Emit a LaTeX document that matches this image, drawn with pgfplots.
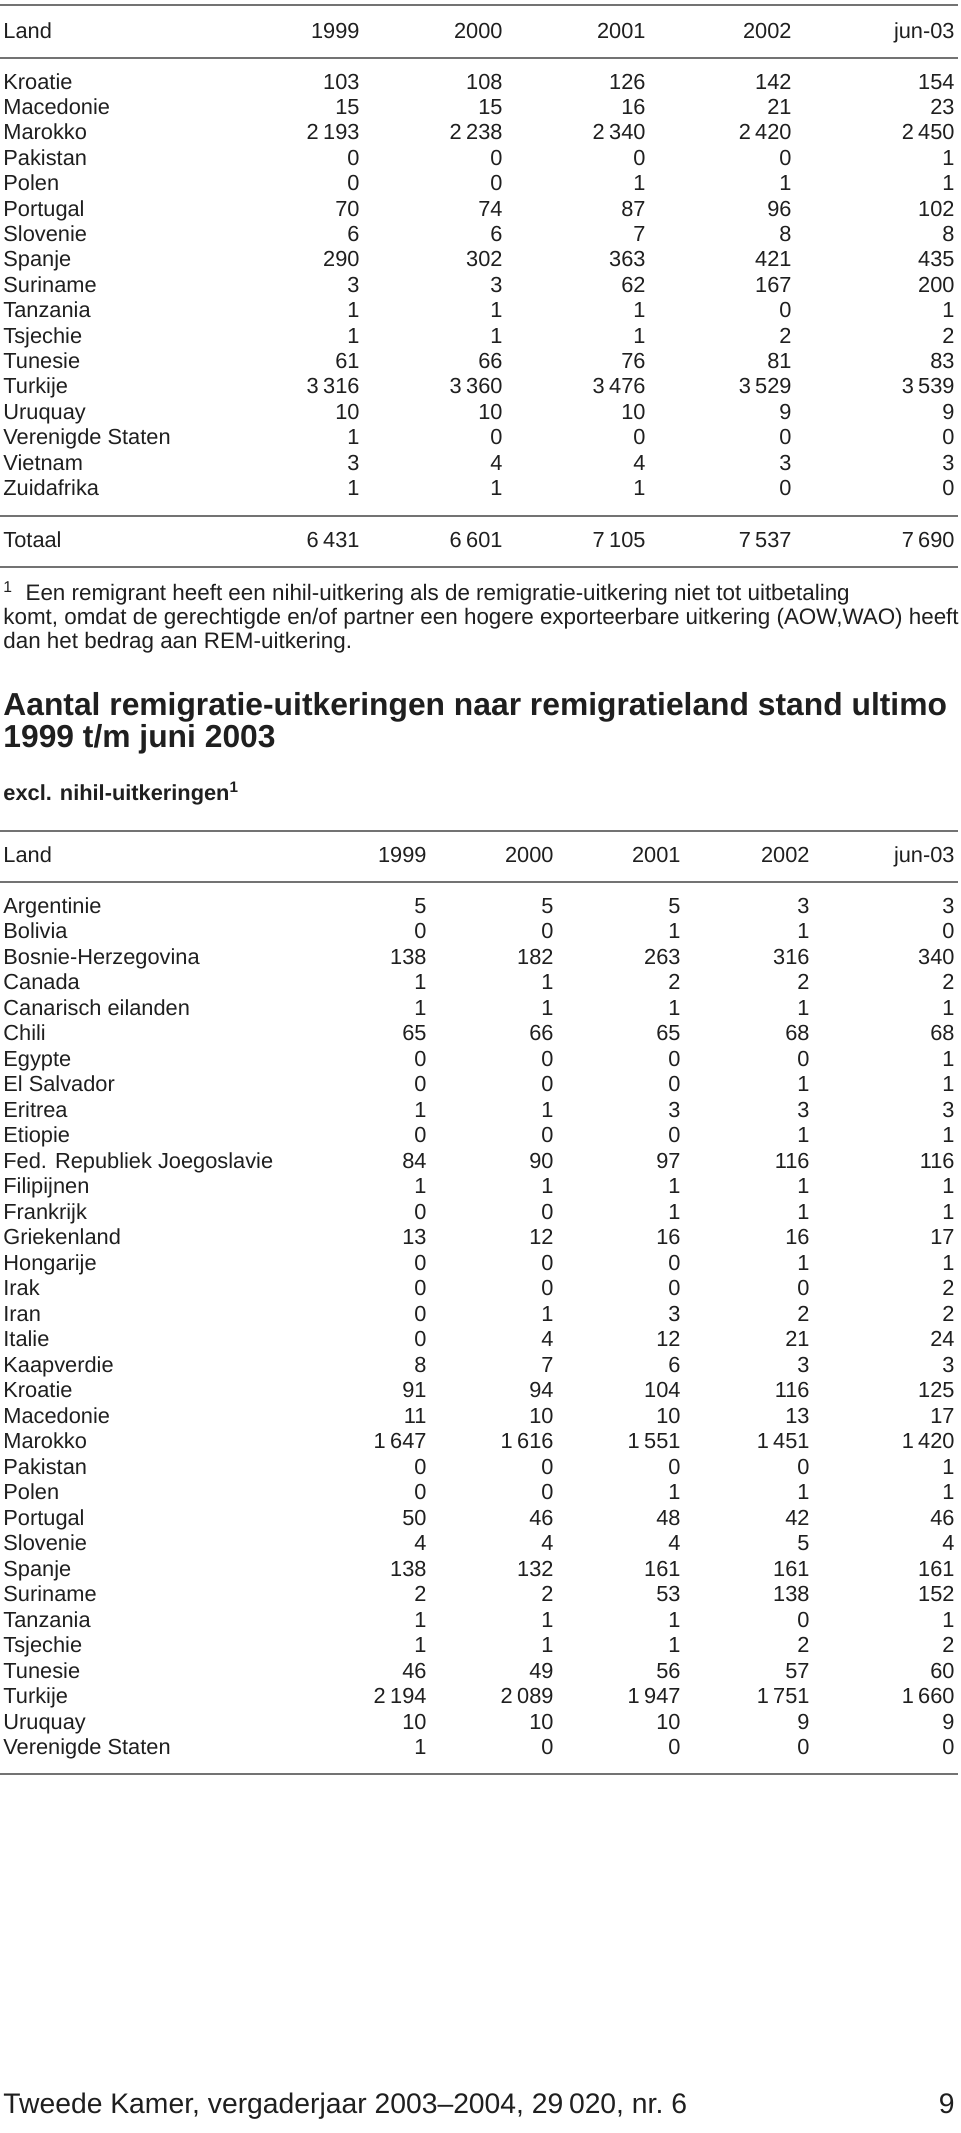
\documentclass[border=0pt]{standalone}
\usepackage{fontspec}
\setmainfont{Liberation Sans}
\usepackage{pgfplots}
\usepackage{pgfplotstable}
\pgfplotsset{compat=1.18}
\definecolor{rulec}{gray}{0.45}
\definecolor{ink}{gray}{0.12}
\newcommand\bodyfont{\fontsize{10.9}{13}\selectfont}
\newcommand\notefont{\fontsize{11.2}{13.4}\selectfont}

\pgfplotstableread[col sep=comma,row sep=\\]{
land,a,b,c,d,e\\
Kroatie,103,108,126,142,154\\
Macedonie,15,15,16,21,23\\
Marokko,2193,2238,2340,2420,2450\\
Pakistan,0,0,0,0,1\\
Polen,0,0,1,1,1\\
Portugal,70,74,87,96,102\\
Slovenie,6,6,7,8,8\\
Spanje,290,302,363,421,435\\
Suriname,3,3,62,167,200\\
Tanzania,1,1,1,0,1\\
Tsjechie,1,1,1,2,2\\
Tunesie,61,66,76,81,83\\
Turkije,3316,3360,3476,3529,3539\\
Uruquay,10,10,10,9,9\\
Verenigde Staten,1,0,0,0,0\\
Vietnam,3,4,4,3,3\\
Zuidafrika,1,1,1,0,0\\
}\tabA

\pgfplotstableread[col sep=comma,row sep=\\]{
land,a,b,c,d,e\\
Totaal,6431,6601,7105,7537,7690\\
}\tabAT

\pgfplotstableread[col sep=comma,row sep=\\]{
land,a,b,c,d,e\\
Argentinie,5,5,5,3,3\\
Bolivia,0,0,1,1,0\\
Bosnie-Herzegovina,138,182,263,316,340\\
Canada,1,1,2,2,2\\
Canarisch eilanden,1,1,1,1,1\\
Chili,65,66,65,68,68\\
Egypte,0,0,0,0,1\\
El Salvador,0,0,0,1,1\\
Eritrea,1,1,3,3,3\\
Etiopie,0,0,0,1,1\\
Fed. Republiek Joegoslavie,84,90,97,116,116\\
Filipijnen,1,1,1,1,1\\
Frankrijk,0,0,1,1,1\\
Griekenland,13,12,16,16,17\\
Hongarije,0,0,0,1,1\\
Irak,0,0,0,0,2\\
Iran,0,1,3,2,2\\
Italie,0,4,12,21,24\\
Kaapverdie,8,7,6,3,3\\
Kroatie,91,94,104,116,125\\
Macedonie,11,10,10,13,17\\
Marokko,1647,1616,1551,1451,1420\\
Pakistan,0,0,0,0,1\\
Polen,0,0,1,1,1\\
Portugal,50,46,48,42,46\\
Slovenie,4,4,4,5,4\\
Spanje,138,132,161,161,161\\
Suriname,2,2,53,138,152\\
Tanzania,1,1,1,0,1\\
Tsjechie,1,1,1,2,2\\
Tunesie,46,49,56,57,60\\
Turkije,2194,2089,1947,1751,1660\\
Uruquay,10,10,10,9,9\\
Verenigde Staten,1,0,0,0,0\\
}\tabB

\pgfplotsset{
  numcol/.style={draw=none, mark=none, nodes near coords, point meta=explicit,
    nodes near coords style={anchor=base east, inner sep=0pt, font=\bodyfont, text=ink}},
  namecol/.style={draw=none, mark=none, nodes near coords={\pgfplotspointmeta},
    point meta=explicit symbolic,
    nodes near coords style={anchor=base west, inner sep=0pt, font=\bodyfont, text=ink}},
}

\begin{document}
\begin{tikzpicture}[font=\bodyfont, text=ink]
\begin{axis}[
  scale only axis, width=480pt, height=1066.5pt,
  xmin=0, xmax=960, ymin=0, ymax=2133, y dir=reverse,
  hide axis, clip=false,
  /pgf/number format/fixed,
  /pgf/number format/precision=0,
  /pgf/number format/1000 sep={\kern0.2em},
  /pgf/number format/assume math mode=true,
]
% ---------- table 1 ----------
\draw[rulec, line width=1.2pt] (axis cs:0,5) -- (axis cs:958,5);
\node[anchor=base west, inner sep=0pt] at (axis cs:3,38) {Land};
\node[anchor=base east, inner sep=0pt] at (axis cs:360,38) {1999};
\node[anchor=base east, inner sep=0pt] at (axis cs:503,38) {2000};
\node[anchor=base east, inner sep=0pt] at (axis cs:646,38) {2001};
\node[anchor=base east, inner sep=0pt] at (axis cs:792,38) {2002};
\node[anchor=base east, inner sep=0pt] at (axis cs:955,38) {jun-03};
\draw[rulec, line width=1.2pt] (axis cs:0,58) -- (axis cs:958,58);

\addplot[namecol] table[x expr=3, y expr=89+25.4*\coordindex, meta=land] {\tabA};
\addplot[numcol] table[x expr=360, y expr=89+25.4*\coordindex, meta=a] {\tabA};
\addplot[numcol] table[x expr=503, y expr=89+25.4*\coordindex, meta=b] {\tabA};
\addplot[numcol] table[x expr=646, y expr=89+25.4*\coordindex, meta=c] {\tabA};
\addplot[numcol] table[x expr=792, y expr=89+25.4*\coordindex, meta=d] {\tabA};
\addplot[numcol] table[x expr=955, y expr=89+25.4*\coordindex, meta=e] {\tabA};

\draw[rulec, line width=1.2pt] (axis cs:0,516) -- (axis cs:958,516);
\addplot[namecol] table[x expr=3, y expr=547, meta=land] {\tabAT};
\addplot[numcol] table[x expr=360, y expr=547, meta=a] {\tabAT};
\addplot[numcol] table[x expr=503, y expr=547, meta=b] {\tabAT};
\addplot[numcol] table[x expr=646, y expr=547, meta=c] {\tabAT};
\addplot[numcol] table[x expr=792, y expr=547, meta=d] {\tabAT};
\addplot[numcol] table[x expr=955, y expr=547, meta=e] {\tabAT};
\draw[rulec, line width=1.2pt] (axis cs:0,567) -- (axis cs:958,567);

\node[anchor=base west, inner sep=0pt, font=\notefont] at (axis cs:3,600) {\textsuperscript{1}\ \ Een remigrant heeft een nihil-uitkering als de remigratie-uitkering niet tot uitbetaling};
\node[anchor=base west, inner sep=0pt, font=\notefont] at (axis cs:3,624) {komt, omdat de gerechtigde en/of partner een hogere exporteerbare uitkering (AOW,WAO) heeft};
\node[anchor=base west, inner sep=0pt, font=\notefont] at (axis cs:3,648) {dan het bedrag aan REM-uitkering.};

% ---------- title ----------
\node[anchor=base west, inner sep=0pt, font=\fontsize{15.9}{18}\selectfont\bfseries] at (axis cs:3,715) {Aantal remigratie-uitkeringen naar remigratieland stand ultimo};
\node[anchor=base west, inner sep=0pt, font=\fontsize{15.9}{18}\selectfont\bfseries] at (axis cs:3,747) {1999 t/m juni 2003};
\node[anchor=base west, inner sep=0pt, font=\bodyfont\bfseries] at (axis cs:3,800) {excl. nihil-uitkeringen\textsuperscript{1}};

% ---------- table 2 ----------
\draw[rulec, line width=1.2pt] (axis cs:0,831) -- (axis cs:958,831);
\node[anchor=base west, inner sep=0pt] at (axis cs:3,862) {Land};
\node[anchor=base east, inner sep=0pt] at (axis cs:427,862) {1999};
\node[anchor=base east, inner sep=0pt] at (axis cs:554,862) {2000};
\node[anchor=base east, inner sep=0pt] at (axis cs:681,862) {2001};
\node[anchor=base east, inner sep=0pt] at (axis cs:810,862) {2002};
\node[anchor=base east, inner sep=0pt] at (axis cs:955,862) {jun-03};
\draw[rulec, line width=1.2pt] (axis cs:0,882) -- (axis cs:958,882);

\addplot[namecol] table[x expr=3, y expr=913+25.5*\coordindex, meta=land] {\tabB};
\addplot[numcol] table[x expr=427, y expr=913+25.5*\coordindex, meta=a] {\tabB};
\addplot[numcol] table[x expr=554, y expr=913+25.5*\coordindex, meta=b] {\tabB};
\addplot[numcol] table[x expr=681, y expr=913+25.5*\coordindex, meta=c] {\tabB};
\addplot[numcol] table[x expr=810, y expr=913+25.5*\coordindex, meta=d] {\tabB};
\addplot[numcol] table[x expr=955, y expr=913+25.5*\coordindex, meta=e] {\tabB};
\draw[rulec, line width=1.2pt] (axis cs:0,1774) -- (axis cs:958,1774);

% ---------- footer ----------
\node[anchor=base west, inner sep=0pt, font=\fontsize{14.15}{16}\selectfont] at (axis cs:3,2113) {Tweede Kamer, vergaderjaar 2003--2004, 29\kern0.2em 020, nr.~6};
\node[anchor=base east, inner sep=0pt, font=\fontsize{14.15}{16}\selectfont] at (axis cs:955,2113) {9};
\end{axis}
\pgfresetboundingbox
\useasboundingbox (current axis.south west) rectangle (current axis.north east);
\end{tikzpicture}
\end{document}
